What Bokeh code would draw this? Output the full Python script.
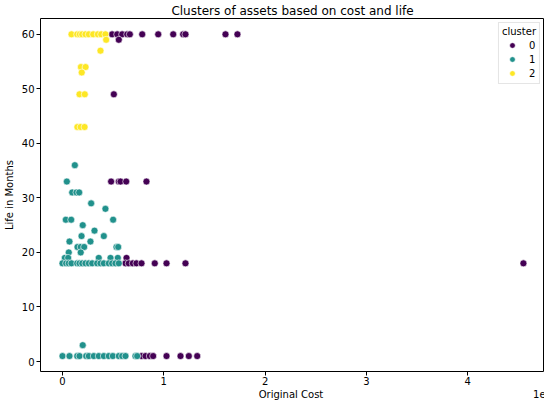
from bokeh.plotting import figure
from bokeh.models import Range1d, FixedTicker, CustomJSTickFormatter
from bokeh.embed import file_html
from bokeh.resources import INLINE

# ---- data (Original Cost, Life in Months) per cluster ----
cluster0_cost = [0.49e7, 0.54e7, 0.589e7, 0.639e7, 0.665e7, 0.787e7, 0.945e7, 1.093e7, 1.191e7, 1.214e7, 1.609e7, 1.727e7,
                 0.556e7, 0.507e7,
                 0.48e7, 0.556e7, 0.573e7, 0.629e7, 0.829e7,
                 0.632e7,
                 0.622e7, 0.654e7, 0.694e7, 0.73e7, 0.78e7, 0.911e7, 1.027e7, 1.214e7, 4.55e7,
                 0.78e7, 0.819e7, 0.862e7, 0.895e7, 1.027e7, 1.165e7, 1.247e7, 1.33e7]
cluster0_life = [60, 60, 60, 60, 60, 60, 60, 60, 60, 60, 60, 60,
                 59, 49,
                 33, 33, 33, 33, 33,
                 19,
                 18, 18, 18, 18, 18, 18, 18, 18, 18,
                 1, 1, 1, 1, 1, 1, 1, 1]

cluster1_cost = [0.122e7, 0.043e7, 0.096e7, 0.138e7, 0.165e7, 0.283e7, 0.424e7,
                 0.033e7, 0.086e7, 0.5e7, 0.2e7, 0.316e7, 0.188e7, 0.408e7, 0.069e7, 0.276e7,
                 0.148e7, 0.18e7, 0.214e7, 0.533e7, 0.55e7,
                 0.062e7, 0.18e7,
                 0.023e7, 0.056e7, 0.358e7, 0.474e7, 0.546e7,
                 0.0, 0.036e7, 0.062e7, 0.089e7, 0.145e7, 0.168e7, 0.195e7, 0.227e7, 0.26e7, 0.293e7,
                 0.342e7, 0.375e7, 0.408e7, 0.457e7, 0.49e7, 0.523e7, 0.556e7,
                 0.2e7,
                 0.0, 0.069e7, 0.145e7, 0.168e7, 0.234e7, 0.26e7, 0.309e7, 0.358e7, 0.408e7, 0.457e7,
                 0.497e7, 0.556e7, 0.589e7, 0.622e7, 0.72e7, 0.737e7]
cluster1_life = [36, 33, 31, 31, 31, 29, 28,
                 26, 26, 26, 25, 24, 23, 23, 22, 22,
                 21, 21, 21, 21, 21,
                 20, 20,
                 19, 19, 19, 19, 19,
                 18, 18, 18, 18, 18, 18, 18, 18, 18, 18,
                 18, 18, 18, 18, 18, 18, 18,
                 3,
                 1, 1, 1, 1, 1, 1, 1, 1, 1, 1,
                 1, 1, 1, 1, 1, 1]

cluster2_cost = [0.089e7, 0.145e7, 0.171e7, 0.194e7, 0.227e7, 0.26e7, 0.303e7, 0.349e7, 0.382e7, 0.424e7,
                 0.431e7, 0.375e7, 0.182e7, 0.228e7, 0.19e7, 0.168e7, 0.22e7, 0.147e7, 0.179e7, 0.218e7]
cluster2_life = [60, 60, 60, 60, 60, 60, 60, 60, 60, 60,
                 59, 57, 54, 54, 53, 49, 49, 43, 43, 43]

cluster_labels = ["0", "1", "2"]
cluster_colors = ["#440154", "#21918c", "#fde725"]

x_ticks = [0, 1e7, 2e7, 3e7, 4e7]
y_ticks = [0, 10, 20, 30, 40, 50, 60]
x_label = "Original Cost"
x_offset_text = "1e7"

FONT = "DejaVu Sans"
NB = "\u00a0"

p = figure(frame_width=504, frame_height=353, output_backend="svg", toolbar_location=None,
           x_range=Range1d(-0.217e7, 4.758e7), y_range=Range1d(-1.83, 62.9),
           min_border_left=37, min_border_right=0, min_border_top=0, min_border_bottom=0)

p.title.text = "Clusters of assets based on cost and life"
p.title.align = "center"
p.title.text_font = FONT
p.title.text_font_size = "12px"
p.title.text_font_style = "normal"
p.title.text_color = "black"
p.title.standoff = 2
p.title.offset = 0

p.xgrid.visible = False
p.ygrid.visible = False
p.outline_line_color = "black"
p.outline_line_width = 1
p.outline_line_alpha = 1

for ax in (p.xaxis[0], p.yaxis[0]):
    ax.axis_line_color = None
    ax.major_tick_in = 0
    ax.major_tick_out = 4
    ax.minor_tick_line_color = None
    ax.major_tick_line_color = "black"
    ax.major_label_text_font = FONT
    ax.major_label_text_font_size = "10px"
    ax.major_label_text_color = "black"
    ax.axis_label_text_font = FONT
    ax.axis_label_text_font_size = "10px"
    ax.axis_label_text_font_style = "normal"
    ax.axis_label_text_color = "black"
    ax.major_label_standoff = 1
    ax.axis_label_standoff = 1

p.yaxis.major_label_standoff = 2
p.yaxis.axis_label_standoff = 4

p.xaxis.ticker = FixedTicker(ticks=x_ticks)
p.xaxis.formatter = CustomJSTickFormatter(code="return (tick/1e7).toFixed(0);")
p.yaxis.ticker = FixedTicker(ticks=y_ticks)
# x label centred under the frame, with the matplotlib-style offset "1e7" at the right end
p.xaxis.axis_label = NB * 71 + x_label + NB * 66 + x_offset_text
p.yaxis.axis_label = "Life in Months"

series = [(cluster0_cost, cluster0_life), (cluster1_cost, cluster1_life), (cluster2_cost, cluster2_life)]
for (xs, ys), lab, col in zip(series, cluster_labels, cluster_colors):
    p.scatter(xs, ys, size=7, fill_color=col, line_color="white", line_width=0.6,
              legend_label=lab)

lg = p.legend[0]
lg.location = "top_right"
lg.title = "cluster"
lg.title_text_font = FONT
lg.title_text_font_size = "10px"
lg.title_text_font_style = "normal"
lg.title_text_color = "black"
lg.title_standoff = 1
lg.label_text_font = FONT
lg.label_text_font_size = "10px"
lg.label_text_color = "black"
lg.glyph_width = 20
lg.glyph_height = 14
lg.label_height = 10
lg.label_width = 6
lg.label_standoff = 7
lg.spacing = 0
lg.padding = 3
lg.margin = 4
lg.border_line_color = "#cccccc"
lg.background_fill_alpha = 0.8

open("out.html", "w").write(file_html(p, INLINE))
